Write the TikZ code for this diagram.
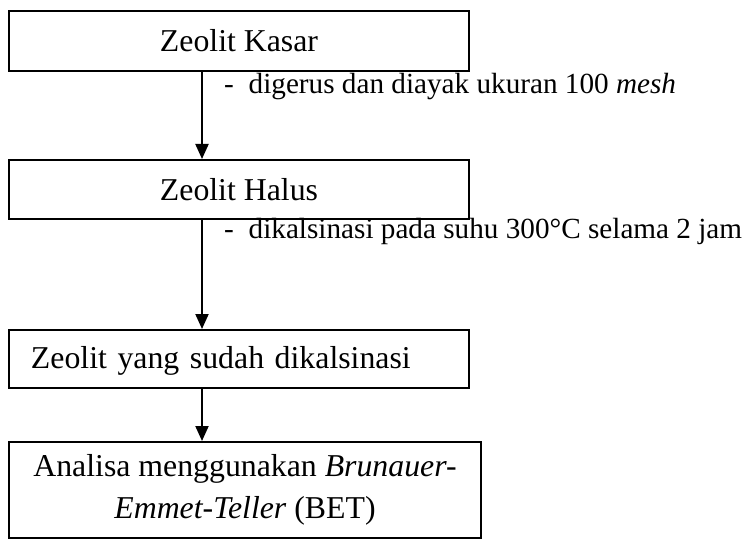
\documentclass[tikz,border=0pt]{standalone}
\usepackage{fontspec}
\setmainfont{Liberation Serif}
\usetikzlibrary{arrows.meta, positioning}

\begin{document}
\begin{tikzpicture}[x=0.5pt, y=-0.5pt, line width=1pt,
  box/.style={draw, rectangle, inner sep=0pt, minimum width=230pt, minimum height=30pt,
    font=\fontsize{15.9}{21}\selectfont},
  flow/.style={-{Triangle[width=6.5pt,length=7.5pt]}},
  note/.style={anchor=base west, inner sep=0pt, font=\fontsize{14.6}{20}\selectfont}]
  \useasboundingbox (0,0) rectangle (745,540);
  % process boxes
  \node[box] (kasar) at (239,41) {Zeolit Kasar};
  \node[box, minimum height=29.5pt] (halus) at (239,189.5) {Zeolit Halus};
  \node[box, minimum height=29pt, text width=208pt, inner xsep=11pt, align=left,
        text depth=3pt, text height=12pt] (kalsin) at (239,359) {Zeolit yang sudah dikalsinasi};
  \node[box, minimum width=236pt, minimum height=48pt, align=center] (bet) at (245,490)
    {Analisa menggunakan \textit{Brunauer-}\\ \textit{Emmet-Teller} (BET)};
  % connectors
  \coordinate (ax) at (202,0);
  \draw[flow] (kasar.south -| ax) -- (halus.north -| ax);
  \draw[flow] (halus.south -| ax) -- (kalsin.north -| ax);
  \draw[flow] (kalsin.south -| ax) -- (bet.north -| ax);
  % step notes
  \node[note] (gerus) at (223,94) {-\hspace{7.5pt}digerus dan diayak ukuran 100 \textit{mesh}};
  \node[note] (panas) at (223,238) {-\hspace{7.5pt}dikalsinasi pada suhu 300°C selama 2 jam};
\end{tikzpicture}
\end{document}
